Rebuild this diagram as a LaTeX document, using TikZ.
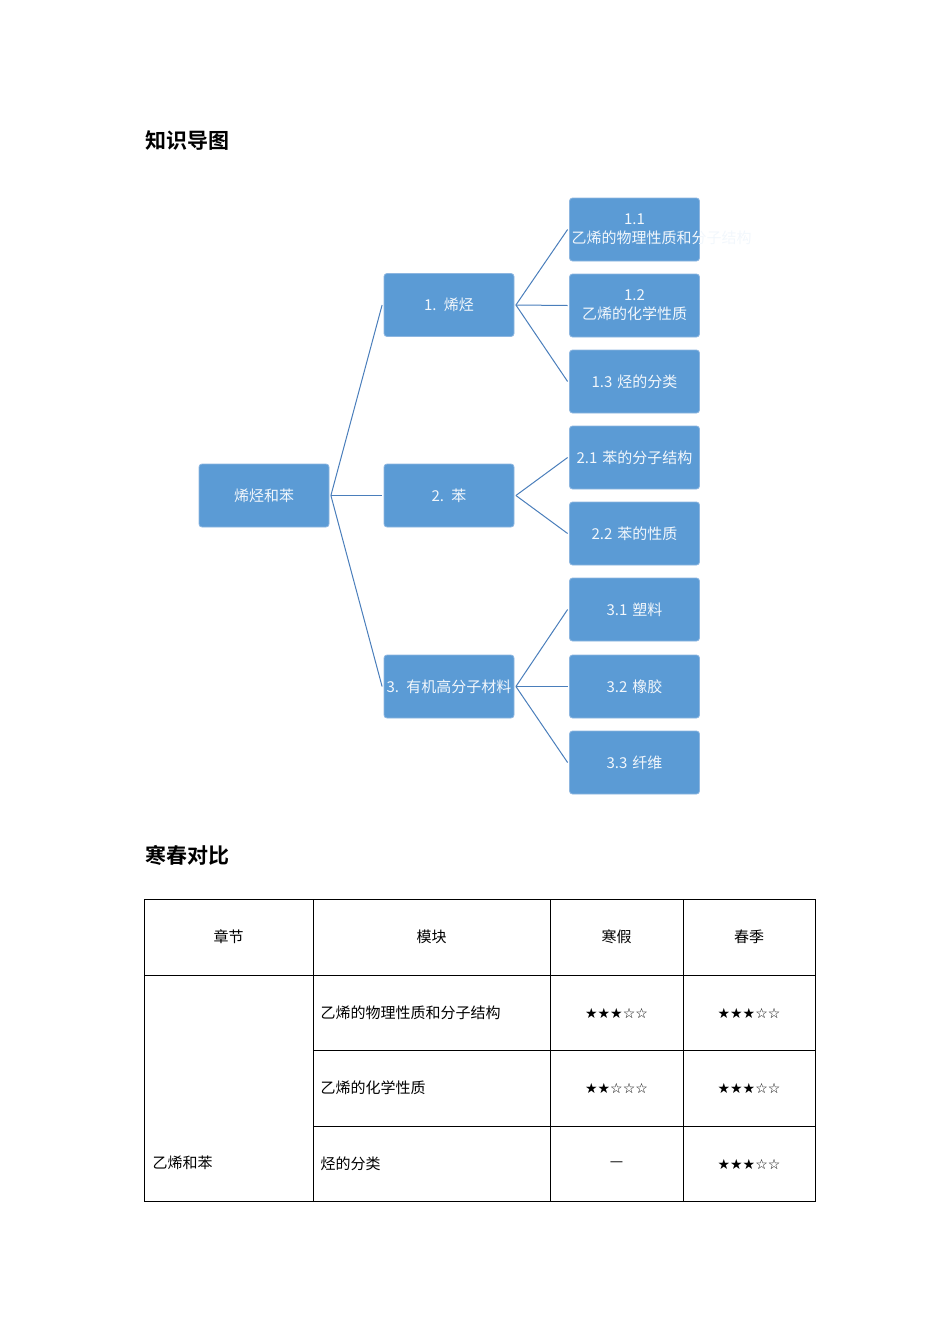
\documentclass[tikz,border=0pt]{standalone}
\usepackage{fontspec}
\setmainfont{Noto Sans CJK SC}
\newfontfamily\cjkb{Noto Sans CJK SC Bold}
\newfontfamily\starfont{DejaVu Sans}
\definecolor{boxc}{HTML}{5B9BD5}
\definecolor{boxl}{HTML}{8DB6E0}
\definecolor{linec}{HTML}{4A7EBB}
\begin{document}
\begin{tikzpicture}[x=1pt,y=-1pt,
  bx/.style={rectangle,rounded corners=3pt,fill=boxc,draw=boxl,line width=0.8pt,minimum width=130pt,minimum height=63pt,text width=126pt,align=center,text=white!92!boxc,font=\fontsize{15}{19}\selectfont,inner sep=1pt},
  cn/.style={linec,line width=1pt},
  ttl/.style={anchor=west,font=\cjkb\fontsize{21}{24}\selectfont},
  tb/.style={font=\fontsize{15}{18}\selectfont},
  st/.style={font=\starfont\fontsize{14}{16}\selectfont}]
\path[use as bounding box] (0,0) rectangle (950,1344);
\node[ttl] (t1) at (142,141) {知识导图};
\node[ttl] (t2) at (142,855) {寒春对比};
\node[bx] (r) at (264,495.5) {烯烃和苯};
\node[bx] (a) at (449,305) {1. 烯烃};
\node[bx] (b) at (449,495.5) {2. 苯};
\node[bx] (c) at (449,686.5) {3. 有机高分子材料};
\node[bx] (a1) at (634.5,229.5) {1.1 乙烯的物理性质和分子结构};
\node[bx] (a2) at (634.5,305.5) {1.2 乙烯的化学性质};
\node[bx] (a3) at (634.5,381.5) {1.3 烃的分类};
\node[bx] (b1) at (634.5,457.5) {2.1 苯的分子结构};
\node[bx] (b2) at (634.5,533.5) {2.2 苯的性质};
\node[bx] (c1) at (634.5,609.5) {3.1 塑料};
\node[bx] (c2) at (634.5,686.5) {3.2 橡胶};
\node[bx] (c3) at (634.5,762.5) {3.3 纤维};
\foreach \p/\k in {r/a,r/b,r/c,a/a1,a/a2,a/a3,b/b1,b/b2,c/c1,c/c2,c/c3}
  \draw[cn] ([xshift=1.5pt]\p.east) -- ([xshift=-1.5pt]\k.west);
% table
\draw[line width=0.8pt] (144,899) rectangle (815,1201);
\foreach \x in {313,550,683} \draw[line width=0.8pt] (\x,899) -- (\x,1201);
\draw[line width=0.8pt] (144,975) -- (815,975);
\foreach \y in {1050,1126} \draw[line width=0.8pt] (313,\y) -- (815,\y);
\node[tb] (h1) at (228.5,937) {章节};
\node[tb] (h2) at (431.5,937) {模块};
\node[tb] (h3) at (616.5,937) {寒假};
\node[tb] (h4) at (749,937) {春季};
\node[tb,anchor=west] (g) at (149,1163) {乙烯和苯};
\node[tb,anchor=west] (m1) at (317,1013) {乙烯的物理性质和分子结构};
\node[tb,anchor=west] (m2) at (317,1088) {乙烯的化学性质};
\node[tb,anchor=west] (m3) at (317,1164) {烃的分类};
\node[st] (s11) at (616.5,1013) {★★★☆☆};
\node[st] (s12) at (749,1013) {★★★☆☆};
\node[st] (s21) at (616.5,1088) {★★☆☆☆};
\node[st] (s22) at (749,1088) {★★★☆☆};
\node[tb] (s31) at (616.5,1164) {—};
\node[st] (s32) at (749,1164) {★★★☆☆};
\end{tikzpicture}
\end{document}
